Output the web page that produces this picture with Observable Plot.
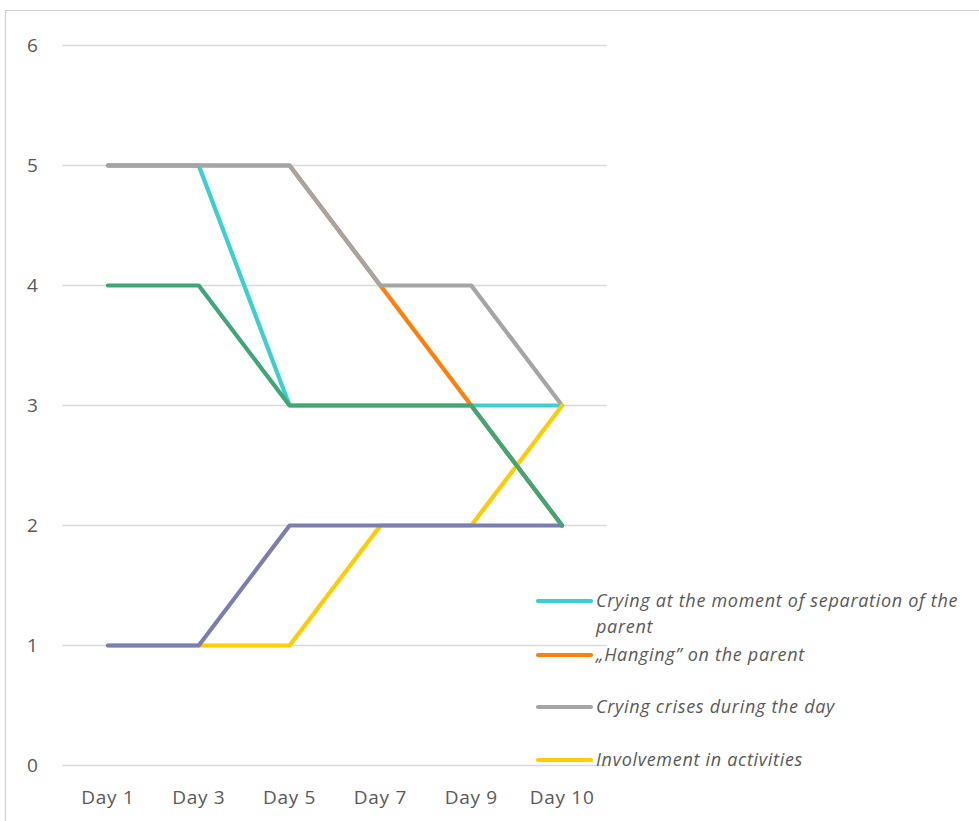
<!DOCTYPE html>
<html>
<head>
<meta charset="utf-8">
<script src="https://cdn.jsdelivr.net/npm/d3@7"></script>
<script src="https://cdn.jsdelivr.net/npm/@observablehq/plot@0.6"></script>
<style>
  html, body { margin: 0; padding: 0; background: #fff; }
  #chart { position: relative; width: 979px; height: 821px; }
</style>
</head>
<body>
<div id="chart"></div>
<script>
// Categories on the x axis
const days = ["Day 1", "Day 3", "Day 5", "Day 7", "Day 9", "Day 10"];
const yTicks = [0, 1, 2, 3, 4, 5, 6];

// Series names (legend order) and their scores per day
const seriesNames = [
  "Crying at the moment of separation of the parent",
  "\u201EHanging\u201D on the parent",
  "Crying crises during the day",
  "Involvement in activities",
  "Series 5",
  "Series 6"
];
const cryingSeparation = [5, 5, 3, 3, 3, 3];
const hanging          = [5, 5, 5, 4, 3, 2];
const cryingCrises     = [5, 5, 5, 4, 4, 3];
const involvement      = [1, 1, 1, 2, 2, 3];
const series5          = [1, 1, 2, 2, 2, 2];
const series6          = [4, 4, 3, 3, 3, 2];
const seriesColors = ["#3ccfcf", "#ff7f0a", "#a5a5a5", "#ffcc00", "#7b7fb0", "#3ea677"];

const allValues = [cryingSeparation, hanging, cryingCrises, involvement, series5, series6];
const rows = allValues.flatMap((vals, s) =>
  vals.map((v, i) => ({series: seriesNames[s], day: days[i], value: v, order: s}))
);

const axisFont = "'Open Sans', Lato, sans-serif";
const legendFont = "'Open Sans', Lato, sans-serif";

const plot = Plot.plot({
  width: 979,
  height: 821,
  marginLeft: 62,
  marginRight: 372,
  marginTop: 45,
  marginBottom: 56,
  style: {fontFamily: axisFont, fontSize: "19px", color: "#595959", background: "#fff", letterSpacing: "0.7px"},
  x: {type: "point", domain: days, padding: 0.5, round: false, label: null},
  y: {domain: [0, 6], ticks: yTicks, tickFormat: d3.format("d"), label: null},
  marks: [
    Plot.gridY(yTicks, {stroke: "#d9d9d9", strokeOpacity: 1, strokeWidth: 1.3}),
    Plot.axisY(yTicks, {tickSize: 0, tickPadding: 24, tickFormat: d3.format("d"), fill: "#595959", fontSize: 19}),
    Plot.axisX({tickSize: 0, tickPadding: 25, fill: "#595959", fontSize: 19}),
    ...allValues.map((vals, s) =>
      Plot.line(rows.filter(d => d.order === s), {
        x: "day", y: "value", stroke: seriesColors[s],
        strokeWidth: 4.2, strokeLinejoin: "round", strokeLinecap: "round"
      })
    )
  ]
});

document.getElementById("chart").appendChild(plot);

const svg = d3.select(plot);

// Outer chart border
svg.append("path")
  .attr("d", "M5.5,821 V10.5 H979")
  .attr("fill", "none")
  .attr("stroke", "#d0d0d0")
  .attr("stroke-width", 1.2);

// Legend for the first four series (overlapping the lower right of the plot)
const legendItems = [
  {color: seriesColors[0], y: 601, lines: ["Crying at the moment of separation of the", "parent"]},
  {color: seriesColors[1], y: 655, lines: [seriesNames[1]]},
  {color: seriesColors[2], y: 707, lines: [seriesNames[2]]},
  {color: seriesColors[3], y: 760, lines: [seriesNames[3]]}
];
const lg = svg.append("g").attr("text-anchor", "start");
legendItems.forEach(item => {
  lg.append("line")
    .attr("x1", 538).attr("x2", 591)
    .attr("y1", item.y).attr("y2", item.y)
    .attr("stroke", item.color)
    .attr("stroke-width", 4.2)
    .attr("stroke-linecap", "round");
  const t = lg.append("text")
    .attr("x", 596)
    .attr("y", item.y)
    .attr("fill", "#595959")
    .attr("font-family", legendFont)
    .attr("font-size", 18)
    .attr("letter-spacing", "0.7px")
    .attr("font-style", "italic");
  item.lines.forEach((ln, i) => {
    t.append("tspan").attr("x", 596).attr("dy", i === 0 ? "0.35em" : 26).text(ln);
  });
});
</script>
</body>
</html>
